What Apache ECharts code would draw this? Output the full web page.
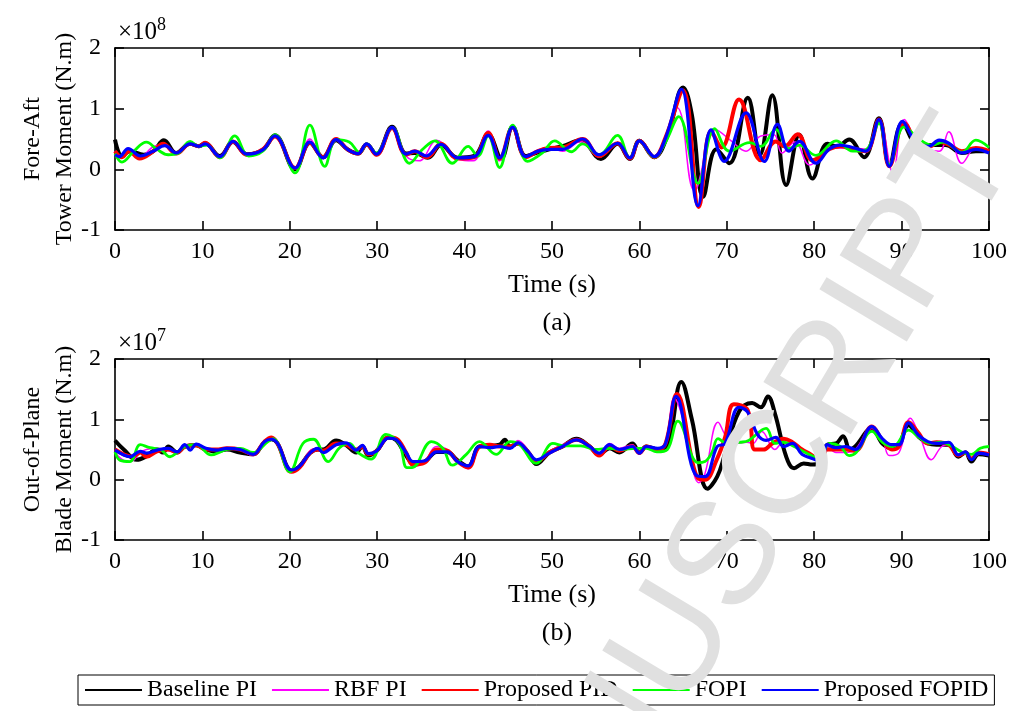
<!DOCTYPE html>
<html><head><meta charset="utf-8">
<script src="https://cdn.jsdelivr.net/npm/echarts@6/dist/echarts.min.js"></script>
<style>html,body{margin:0;padding:0;background:#fff}#c{width:1014px;height:711px}</style>
</head><body><div id="c"></div>
<script>
const seriesNames = ['Baseline PI','RBF PI','Proposed PID','FOPI','Proposed FOPID'];
const seriesColors = ['#000000','#ff00ff','#ff0000','#00ff00','#0000ff'];
const xTickValues = [0,10,20,30,40,50,60,70,80,90,100];
const yTickValues = [-1,0,1,2];

// Panel (a): Fore-Aft tower moment, units of 1e8 N.m  [time s, value]
const towerBaseline = [[0,0.49],[0.8,0.22],[1.7,0.3],[3.3,0.24],[4.4,0.3],[5.6,0.48],[7.0,0.27],[8.6,0.42],[9.6,0.38],[10.3,0.43],[12,0.22],[13.5,0.45],[15.1,0.25],[16.9,0.32],[18.3,0.56],[20.6,0.0],[22.3,0.44],[23.8,0.2],[25.3,0.48],[26.6,0.33],[27.8,0.26],[28.8,0.41],[29.9,0.25],[31.7,0.7],[33.3,0.26],[34.3,0.27],[35.8,0.19],[37.3,0.4],[39.2,0.19],[41.1,0.22],[42.7,0.58],[44.2,0.18],[45.5,0.7],[47.0,0.22],[48.4,0.28],[49.7,0.33],[51.2,0.38],[53.3,0.48],[55.6,0.17],[57.5,0.42],[58.9,0.17],[60,0.47],[61.7,0.2],[63.2,0.55],[65.0,1.35],[66.0,0.9],[67.3,-0.45],[68.8,0.33],[70.3,0.1],[72.4,1.18],[73.8,0.24],[75.2,1.22],[76.8,-0.26],[78.3,0.57],[79.8,-0.15],[81.5,0.42],[82.6,0.38],[84,0.49],[85.7,0.2],[87.4,0.84],[88.6,0.08],[90.1,0.76],[91.9,0.4],[93.4,0.4],[95.0,0.4],[96.9,0.27],[98.5,0.3],[100,0.3]];
const towerRBF = [[0,0.3],[0.7,0.18],[1.7,0.32],[2.8,0.2],[4.5,0.38],[5.6,0.4],[7.0,0.25],[8.6,0.42],[9.6,0.38],[10.3,0.42],[12,0.2],[13.5,0.44],[15.1,0.22],[16.9,0.34],[18.3,0.54],[20.6,0.02],[22.3,0.5],[23.8,0.18],[25.5,0.5],[26.6,0.33],[27.8,0.25],[28.8,0.41],[29.9,0.24],[31.7,0.68],[33.3,0.22],[34.8,0.14],[36.8,0.48],[39.2,0.17],[41,0.14],[42.7,0.63],[44,0.14],[45.5,0.68],[47.0,0.2],[48.4,0.32],[49.7,0.36],[51.2,0.3],[53.3,0.46],[55.4,0.2],[57.5,0.44],[58.9,0.16],[60,0.47],[61.7,0.2],[64.3,1.02],[66.3,-0.35],[68.8,0.65],[70.5,0.47],[72.2,0.3],[73.9,0.55],[75.4,0.57],[76.3,0.27],[77.8,0.45],[79.5,0.07],[81.7,0.33],[83,0.35],[84.4,0.35],[85.9,0.33],[87.4,0.82],[89,-0.05],[90.3,0.82],[92,0.42],[94.3,0.3],[95.4,0.62],[96.9,0.1],[98.5,0.35],[100,0.32]];
const towerPID = [[0,0.3],[0.8,0.2],[1.6,0.3],[2.8,0.18],[4.4,0.3],[5.5,0.42],[7.0,0.26],[8.6,0.42],[9.6,0.38],[10.3,0.44],[12,0.2],[13.5,0.46],[15.1,0.24],[16.9,0.33],[18.3,0.54],[20.6,0.02],[22.3,0.44],[23.8,0.2],[25.3,0.5],[26.6,0.33],[27.8,0.26],[28.8,0.41],[29.9,0.24],[31.7,0.68],[33.3,0.24],[34.3,0.3],[35.7,0.2],[37.3,0.42],[39.2,0.18],[41.1,0.2],[42.7,0.6],[44,0.18],[45.5,0.69],[47.0,0.2],[48.4,0.3],[49.7,0.35],[51.2,0.36],[53.5,0.5],[55.4,0.22],[57.5,0.43],[58.9,0.18],[60,0.47],[61.7,0.2],[63,0.53],[65.0,1.3],[66.8,-0.62],[68.2,0.63],[69.4,0.36],[71.4,1.15],[73.9,0.15],[75.6,0.46],[76.6,0.38],[78.1,0.58],[79.8,0.15],[81.7,0.33],[83,0.38],[84.4,0.33],[85.9,0.3],[87.4,0.82],[88.6,0.05],[90.3,0.76],[91.9,0.42],[93.2,0.38],[94.3,0.45],[95.5,0.4],[96.9,0.3],[98.5,0.35],[100,0.3]];
const towerFOPI = [[0,0.26],[0.8,0.12],[2.1,0.29],[3.6,0.45],[4.8,0.33],[6.1,0.24],[7.2,0.26],[8.6,0.46],[9.6,0.38],[10.5,0.4],[12,0.19],[13.7,0.55],[15.3,0.22],[16.9,0.3],[18.3,0.57],[20.6,-0.06],[22.3,0.73],[24,0.05],[25.3,0.49],[26.8,0.45],[28,0.28],[28.8,0.42],[29.9,0.27],[31.7,0.69],[33.7,0.1],[35.2,0.33],[36.6,0.47],[38.6,0.1],[40.4,0.38],[41.5,0.22],[42.7,0.55],[44,0.03],[45.5,0.73],[47.2,0.13],[48.9,0.27],[50.3,0.47],[52.2,0.29],[53.5,0.42],[55.4,0.24],[57.5,0.56],[58.9,0.19],[60,0.47],[61.7,0.2],[63,0.45],[64.5,0.87],[66.7,-0.23],[68.6,0.67],[70.3,0.3],[72.6,0.44],[73.9,0.38],[75.6,0.66],[77.1,0.34],[78.3,0.4],[80.2,0.23],[82.5,0.47],[84.4,0.3],[85.9,0.32],[87.4,0.76],[88.6,0.08],[90.3,0.7],[92,0.5],[93.5,0.4],[94.8,0.45],[96.9,0.28],[98.5,0.48],[100,0.36]];
const towerFOPID = [[0,0.24],[0.5,0.21],[1.5,0.34],[2.9,0.22],[4.4,0.3],[5.7,0.39],[7.0,0.27],[8.6,0.42],[9.6,0.38],[10.3,0.42],[12,0.21],[13.5,0.46],[15.1,0.25],[16.9,0.32],[18.3,0.55],[20.6,0.02],[22.3,0.45],[23.8,0.19],[25.3,0.49],[26.6,0.33],[27.8,0.26],[28.8,0.42],[29.9,0.25],[31.7,0.69],[33.3,0.25],[34.3,0.3],[35.6,0.22],[37.3,0.41],[39.2,0.19],[41.1,0.21],[42.7,0.56],[44,0.19],[45.5,0.69],[47.0,0.21],[48.4,0.3],[49.7,0.33],[51.2,0.33],[53.5,0.5],[55.4,0.24],[57.5,0.43],[58.9,0.19],[60,0.47],[61.7,0.21],[63,0.52],[64.8,1.32],[66.7,-0.6],[68.2,0.65],[69.7,0.13],[72.2,0.93],[74.3,0.13],[75.8,0.74],[77.1,0.3],[78.3,0.46],[80.2,0.1],[81.7,0.33],[82.9,0.4],[84.4,0.36],[85.9,0.3],[87.4,0.82],[88.6,0.05],[90.1,0.79],[91.6,0.46],[93.1,0.38],[94.3,0.48],[95.4,0.43],[96.9,0.27],[98.5,0.33],[100,0.27]];

// Panel (b): Out-of-plane blade moment, units of 1e7 N.m  [time s, value]
const bladeBaseline = [[0,0.65],[1,0.5],[2.5,0.33],[3.5,0.38],[4.8,0.5],[5.5,0.45],[6.1,0.55],[7.1,0.45],[8,0.55],[9.3,0.57],[10.4,0.5],[11.6,0.47],[12.8,0.5],[14.3,0.45],[15.8,0.42],[17.1,0.62],[17.9,0.67],[18.6,0.6],[20.2,0.15],[21.1,0.22],[22.3,0.44],[23.2,0.5],[23.8,0.5],[25.3,0.65],[26.4,0.58],[27.6,0.45],[28.3,0.55],[29,0.4],[29.9,0.47],[31.3,0.7],[32.2,0.65],[33.3,0.4],[34.1,0.28],[35.4,0.3],[36.8,0.46],[38,0.46],[39.2,0.32],[40.4,0.22],[41.7,0.55],[42.9,0.56],[44,0.58],[44.6,0.66],[45.2,0.55],[46.1,0.6],[47.3,0.45],[48.2,0.26],[49.7,0.45],[51.2,0.55],[52.8,0.68],[54.3,0.55],[55.4,0.42],[56.6,0.52],[57.7,0.45],[59.2,0.6],[60,0.45],[60.8,0.55],[62.1,0.5],[63.2,0.55],[64.8,1.62],[66,1.0],[67.8,-0.15],[68.9,0.05],[69.8,0.43],[71.4,1.13],[72.9,1.27],[73.9,1.2],[74.7,1.38],[75.5,1.1],[76.8,0.38],[77.7,0.19],[78.8,0.27],[79.8,0.25],[80.5,0.27],[81.5,0.58],[82.5,0.6],[83.3,0.72],[84.1,0.5],[84.7,0.55],[86.6,0.85],[87.8,0.6],[88.9,0.52],[89.7,0.58],[90.8,0.9],[91.9,0.72],[93,0.6],[94,0.58],[95.4,0.58],[96.5,0.38],[97.3,0.45],[98,0.3],[98.8,0.42],[100,0.4]];
const bladeRBF = [[0,0.45],[1,0.32],[1.8,0.3],[2.9,0.45],[3.6,0.5],[4.8,0.52],[6.1,0.48],[7.1,0.45],[8,0.55],[9.3,0.57],[10.4,0.52],[11.6,0.5],[12.8,0.52],[14.3,0.5],[15.8,0.4],[17.1,0.63],[17.9,0.68],[18.6,0.6],[20.2,0.15],[21.1,0.22],[22.3,0.48],[23.2,0.52],[23.8,0.48],[25.3,0.6],[26.4,0.58],[27.6,0.5],[28.3,0.55],[29,0.42],[29.9,0.47],[31.3,0.7],[32.2,0.65],[33.3,0.42],[34.1,0.22],[35.4,0.3],[36.8,0.55],[38,0.5],[39.2,0.3],[40.4,0.18],[41.7,0.55],[42.9,0.55],[44,0.56],[45.2,0.55],[46.1,0.65],[47.3,0.48],[48.2,0.3],[49.7,0.47],[51.2,0.58],[52.8,0.67],[54.3,0.55],[55.4,0.42],[56.6,0.6],[57.7,0.52],[59.2,0.58],[60,0.45],[60.8,0.55],[62.1,0.52],[63,0.62],[64.0,1.35],[65.2,0.9],[66.8,-0.05],[67.5,0.1],[69.0,0.95],[70,0.7],[71,0.6],[72.3,0.62],[73,0.6],[74,0.8],[75.5,0.5],[76.5,0.62],[77.5,0.6],[79,0.45],[80.8,0.3],[81.5,0.55],[82.5,0.45],[83.6,0.45],[84.7,0.5],[86.6,0.85],[87.8,0.68],[88.6,0.4],[89.7,0.45],[91,1.02],[92,0.75],[93.4,0.33],[94.6,0.55],[95.5,0.58],[96.5,0.4],[97.3,0.45],[98,0.35],[98.8,0.42],[100,0.45]];
const bladePID = [[0,0.5],[1,0.42],[2,0.38],[2.9,0.45],[3.6,0.38],[4.8,0.47],[6.1,0.5],[7.1,0.45],[8,0.55],[9.3,0.57],[10.4,0.5],[11.6,0.5],[12.8,0.52],[14.3,0.5],[15.8,0.42],[17.1,0.63],[17.9,0.7],[18.6,0.6],[20.2,0.13],[21.1,0.2],[22.3,0.44],[23.2,0.5],[23.8,0.48],[25.3,0.6],[26.4,0.58],[27.6,0.5],[28.3,0.55],[29,0.42],[29.9,0.47],[31.3,0.7],[32.2,0.68],[33.3,0.45],[34.1,0.25],[35.4,0.28],[36.8,0.5],[38,0.48],[39.2,0.3],[40.4,0.2],[41.7,0.55],[42.9,0.58],[44,0.55],[45.2,0.55],[46.1,0.6],[47.3,0.45],[48.2,0.3],[49.7,0.45],[51.2,0.55],[52.8,0.66],[54.3,0.55],[55.4,0.4],[56.6,0.55],[57.7,0.48],[59.2,0.55],[60,0.44],[60.8,0.55],[62.1,0.5],[63,0.6],[64.3,1.42],[66.7,0.02],[67.5,0.0],[68.9,0.35],[69.8,0.7],[70.8,1.25],[72.4,1.15],[73.2,0.5],[74.2,0.5],[75.2,0.6],[76.5,0.68],[77.5,0.62],[78.6,0.5],[79.6,0.42],[80.8,0.3],[81.5,0.5],[82.5,0.5],[83.6,0.5],[84.7,0.48],[86.6,0.88],[87.8,0.65],[88.9,0.5],[89.7,0.55],[90.8,0.95],[91.9,0.78],[93,0.6],[94,0.62],[95.4,0.58],[96.5,0.4],[97.3,0.45],[98,0.35],[98.8,0.45],[100,0.42]];
const bladeFOPI = [[0,0.46],[0.6,0.32],[1.7,0.3],[2.9,0.58],[4.0,0.53],[5.2,0.5],[6.3,0.38],[7.1,0.45],[8,0.55],[9.3,0.58],[11,0.41],[12.8,0.5],[14.3,0.52],[15.8,0.45],[17.5,0.63],[18.1,0.68],[20,0.13],[21.5,0.6],[22.7,0.67],[24.4,0.3],[25.7,0.53],[26.8,0.6],[27.8,0.45],[29.3,0.34],[31.0,0.75],[32.5,0.6],[33.4,0.2],[34,0.2],[36.2,0.63],[37.5,0.52],[38.6,0.24],[40.2,0.42],[41.7,0.63],[43.6,0.42],[45.2,0.63],[46.3,0.58],[48.2,0.27],[50.1,0.6],[51.5,0.56],[53.3,0.56],[55,0.5],[56.6,0.52],[58,0.5],[59.5,0.52],[60.8,0.52],[62,0.46],[63.2,0.5],[64.4,0.97],[66.7,0.28],[67.5,0.3],[68.3,0.45],[69,0.68],[70,0.6],[71.5,0.62],[72.5,0.65],[74.5,0.85],[75.5,0.6],[76.5,0.62],[77.7,0.55],[79,0.45],[80.5,0.36],[81.8,0.6],[83,0.55],[84,0.4],[84.8,0.45],[86.6,0.8],[87.8,0.62],[89,0.55],[90.8,0.82],[92,0.7],[93.3,0.6],[94.5,0.62],[95.8,0.55],[97,0.45],[98,0.42],[99,0.52],[100,0.55]];
const bladeFOPID = [[0,0.49],[1,0.41],[1.7,0.38],[2.9,0.47],[3.6,0.44],[4.8,0.49],[6.1,0.52],[7.1,0.46],[8,0.58],[8.6,0.49],[9.3,0.59],[10.4,0.52],[11.6,0.49],[12.8,0.52],[14.3,0.5],[15.8,0.42],[17.1,0.63],[17.9,0.67],[18.6,0.6],[20.2,0.16],[21.1,0.22],[22.3,0.44],[23.2,0.52],[23.8,0.45],[25.3,0.58],[26.4,0.61],[27.6,0.49],[28.3,0.57],[29,0.43],[29.9,0.47],[31.3,0.69],[32.2,0.66],[33.3,0.45],[34.1,0.3],[35.4,0.31],[36.8,0.46],[38,0.46],[39.2,0.3],[40.4,0.23],[41.7,0.55],[42.9,0.53],[44,0.55],[45.2,0.52],[46.1,0.61],[47.3,0.46],[48.2,0.33],[49.7,0.44],[51.2,0.55],[52.8,0.66],[54.3,0.55],[55.4,0.44],[56.6,0.58],[57.7,0.5],[59.2,0.55],[60,0.44],[60.8,0.55],[62.1,0.52],[63,0.6],[64.2,1.38],[66.5,0.07],[67.5,0.05],[68.9,0.55],[69.8,0.6],[71.4,1.2],[72.4,1.12],[73.5,0.75],[74.5,0.65],[75.6,0.7],[76.5,0.55],[77.5,0.6],[78.6,0.42],[79.6,0.36],[80.8,0.3],[81.5,0.58],[82.4,0.53],[83.6,0.55],[84.7,0.5],[86.6,0.88],[87.8,0.68],[88.9,0.58],[89.7,0.58],[90.8,0.94],[91.9,0.74],[93,0.63],[94,0.6],[95.4,0.62],[96.5,0.41],[97.3,0.46],[98,0.33],[98.8,0.44],[100,0.41]];

const towerData = [towerBaseline, towerRBF, towerPID, towerFOPI, towerFOPID];
const bladeData = [bladeBaseline, bladeRBF, bladePID, bladeFOPI, bladeFOPID];
const lineWidths = [4, 1.5, 4, 2.8, 3.2];

// Watermark text (page decoration), laid out letter by letter
const wmText = 'ACCEPTED MANUSCRIPT';
const wmAdvance = {A:0.667,C:0.722,E:0.667,P:0.667,T:0.611,D:0.722,' ':0.278,M:0.833,N:0.722,U:0.722,S:0.667,R:0.722,I:0.278};

const FONT = 'Liberation Serif';
const chart = echarts.init(document.getElementById('c'), null, {renderer: 'canvas'});

function xAx(grid, pos, labels) {
  return {
    type: 'value', gridIndex: grid, position: pos, min: 0, max: 100, interval: 10,
    axisLine: {show: true, onZero: false, lineStyle: {color: '#000', width: 1.6}},
    axisTick: {show: true, inside: true, length: 9, lineStyle: {color: '#000', width: 1.6}},
    axisLabel: {show: labels, color: '#000', fontFamily: FONT, fontSize: 24, margin: 10},
    splitLine: {show: false},
    name: labels ? 'Time (s)' : '', nameLocation: 'middle', nameGap: 42,
    nameTextStyle: {color: '#000', fontFamily: FONT, fontSize: 26}
  };
}
function yAx(grid, pos, labels, name) {
  return {
    type: 'value', gridIndex: grid, position: pos, min: -1, max: 2, interval: 1,
    axisLine: {show: true, onZero: false, lineStyle: {color: '#000', width: 1.6}},
    axisTick: {show: true, inside: true, length: 9, lineStyle: {color: '#000', width: 1.6}},
    axisLabel: {show: labels, color: '#000', fontFamily: FONT, fontSize: 24, margin: 14},
    splitLine: {show: false},
    name: labels ? name : '', nameLocation: 'middle', nameGap: 34, nameMoveOverlap: false,
    nameTextStyle: {color: '#000', fontFamily: FONT, fontSize: 24, lineHeight: 32, align: 'center'}
  };
}

const series = [];
towerData.forEach((d, i) => series.push({
  name: seriesNames[i], type: 'line', xAxisIndex: 0, yAxisIndex: 0, data: d,
  smooth: 0.4, symbol: 'none', lineStyle: {color: seriesColors[i], width: lineWidths[i]},
  itemStyle: {color: seriesColors[i]}, z: 2 + i, animation: false
}));
bladeData.forEach((d, i) => series.push({
  name: seriesNames[i], type: 'line', xAxisIndex: 2, yAxisIndex: 2, data: d,
  smooth: 0.4, symbol: 'none', lineStyle: {color: seriesColors[i], width: lineWidths[i]},
  itemStyle: {color: seriesColors[i]}, z: 2 + i, animation: false
}));

// watermark letters: last letter (T) centred at a chosen point, others placed back along the baseline
const wmSize = 148, wmAngle = 59 * Math.PI / 180;
const bx = Math.cos(wmAngle), by = -Math.sin(wmAngle);
const dx = Math.sin(wmAngle), dy = Math.cos(wmAngle);
const wmLast = {x: 954, y: 170};
const letters = wmText.split('');
let cum = 0; const centers = [];
letters.forEach(ch => { const a = wmAdvance[ch]; centers.push(cum + a / 2); cum += a; });
const lastC = centers[centers.length - 1];
const wmGraphics = [];
letters.forEach((ch, i) => {
  if (ch === ' ') return;
  const off = (centers[i] - lastC) * wmSize;
  wmGraphics.push({
    type: 'text', z: 100, rotation: wmAngle,
    x: wmLast.x + off * bx + 7 * dx, y: wmLast.y + off * by + 7 * dy,
    style: {text: ch, fontFamily: 'Liberation Sans', fontSize: wmSize, fill: '#e0e0e0', align: 'center', verticalAlign: 'middle'}
  });
});

chart.setOption({
  animation: false,
  backgroundColor: '#fff',
  textStyle: {fontFamily: FONT},
  grid: [
    {left: 115, right: 25, top: 48, height: 182},
    {left: 115, right: 25, top: 359, height: 181}
  ],
  xAxis: [xAx(0, 'bottom', true), xAx(0, 'top', false), xAx(1, 'bottom', true), xAx(1, 'top', false)],
  yAxis: [
    yAx(0, 'left', true, 'Fore-Aft\nTower Moment (N.m)'), yAx(0, 'right', false, ''),
    yAx(1, 'left', true, 'Out-of-Plane\nBlade Moment (N.m)'), yAx(1, 'right', false, '')
  ],
  legend: {
    data: seriesNames, left: 78, top: 675, width: 936, orient: 'horizontal',
    itemWidth: 57, itemHeight: 14, itemGap: 14,
    padding: [3, 6], borderColor: '#000', borderWidth: 1,
    itemStyle: {opacity: 0},
    textStyle: {color: '#000', fontFamily: FONT, fontSize: 24}
  },
  graphic: [
    {type: 'text', x: 118, y: 32, style: {text: '{a|×10}{b|8}', rich: {a: {fontFamily: FONT, fontSize: 25, fill: '#000'}, b: {fontFamily: FONT, fontSize: 18, fill: '#000', verticalAlign: 'top', padding: [0,0,14,0]}}, verticalAlign: 'middle'}},
    {type: 'text', x: 118, y: 343, style: {text: '{a|×10}{b|7}', rich: {a: {fontFamily: FONT, fontSize: 25, fill: '#000'}, b: {fontFamily: FONT, fontSize: 18, fill: '#000', verticalAlign: 'top', padding: [0,0,14,0]}}, verticalAlign: 'middle'}},
    {type: 'text', x: 557, y: 323, style: {text: '(a)', fontFamily: FONT, fontSize: 26, fill: '#000', align: 'center', verticalAlign: 'middle'}},
    {type: 'text', x: 557, y: 633, style: {text: '(b)', fontFamily: FONT, fontSize: 26, fill: '#000', align: 'center', verticalAlign: 'middle'}}
  ].concat(wmGraphics),
  series: series
});
</script>
</body></html>
